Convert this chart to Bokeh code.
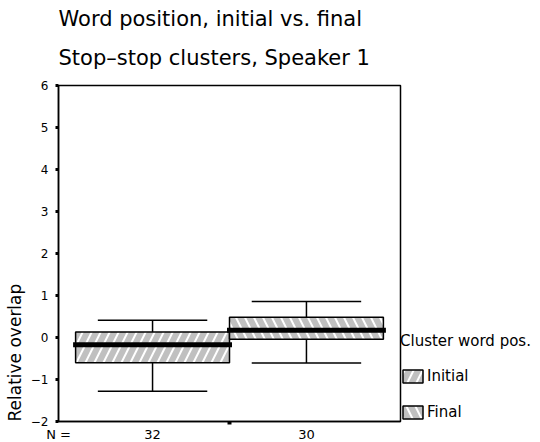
from bokeh.plotting import figure
from bokeh.models import (ColumnDataSource, FixedTicker, Legend, LegendItem, Title)
from bokeh.embed import file_html
from bokeh.resources import INLINE

# ---- data ----
positions = ["Initial", "Final"]
n_cases = [32, 30]
q1 = [-0.60, -0.04]
median = [-0.17, 0.17]
q3 = [0.13, 0.48]
whisker_low = [-1.28, -0.61]
whisker_high = [0.41, 0.86]
hatches = ["right_diagonal_line", "left_diagonal_line"]
y_ticks = [-2, -1, 0, 1, 2, 3, 4, 5, 6]

# ---- layout of the single clustered category ----
group_center = 0.5
box_width = 0.45
cap_width = 0.32
xc = [group_center + (i - (len(positions) - 1) / 2) * box_width for i in range(len(positions))]

src = ColumnDataSource(dict(
    pos=positions, n=n_cases, x=xc,
    left=[x - box_width / 2 for x in xc], right=[x + box_width / 2 for x in xc],
    q1=q1, q2=median, q3=q3, lo=whisker_low, hi=whisker_high,
    cl=[x - cap_width / 2 for x in xc], cr=[x + cap_width / 2 for x in xc],
    hatch=hatches,
))

FONT = "DejaVu Sans"

p = figure(frame_width=342, frame_height=336, x_range=(0, 1), y_range=(-2, 6),
           output_backend="svg", toolbar_location=None,
           min_border_left=50, min_border_top=85, min_border_bottom=18, min_border_right=140)
p.background_fill_color = "white"
p.border_fill_color = "white"
p.grid.visible = False
p.outline_line_color = "black"
p.outline_line_width = 1.5

# whiskers
p.segment(x0="x", y0="q3", x1="x", y1="hi", source=src, line_color="black", line_width=1.5)
p.segment(x0="x", y0="lo", x1="x", y1="q1", source=src, line_color="black", line_width=1.5)
p.segment(x0="cl", y0="hi", x1="cr", y1="hi", source=src, line_color="black", line_width=1.5)
p.segment(x0="cl", y0="lo", x1="cr", y1="lo", source=src, line_color="black", line_width=1.5)

# boxes
renderers = []
for i in range(len(positions)):
    r = p.quad(left=[src.data["left"][i]], right=[src.data["right"][i]],
               bottom=[q1[i]], top=[q3[i]],
               fill_color="#c0c0c0", line_color="black", line_width=1.5,
               hatch_pattern=hatches[i], hatch_color="white", hatch_weight=2, hatch_scale=18)
    renderers.append(r)

# medians
p.segment(x0="left", y0="q2", x1="right", y1="q2", source=src, line_color="black",
          line_width=5, line_cap="square")

# ---- axes ----
ya = p.yaxis[0]
ya.ticker = FixedTicker(ticks=y_ticks, minor_ticks=[])
ya.axis_line_color = "black"
ya.axis_line_width = 1.5
ya.major_tick_out = 3
ya.major_tick_in = 0
ya.major_tick_line_width = 3
ya.major_tick_line_color = "black"
ya.minor_tick_line_color = None
ya.major_label_text_font = FONT
ya.major_label_text_font_size = "12px"
ya.major_label_text_color = "black"
ya.major_label_standoff = 7

xa = p.xaxis[0]
xa.ticker = FixedTicker(ticks=[0] + xc, minor_ticks=[group_center])
xa.major_label_overrides = {0: "N =", **{x: str(n) for x, n in zip(xc, n_cases)}}
xa.axis_line_color = "black"
xa.axis_line_width = 1.5
xa.major_tick_line_color = None
xa.major_tick_out = 0
xa.major_tick_in = 0
xa.minor_tick_out = 3
xa.minor_tick_in = 0
xa.minor_tick_line_width = 4
xa.minor_tick_line_color = "black"
xa.major_label_text_font = FONT
xa.major_label_text_font_size = "13px"
xa.major_label_text_color = "black"
xa.major_label_standoff = 2

# y label as a left title aligned to the bottom of the frame
p.add_layout(Title(text="Relative overlap", align="left", text_font=FONT,
                   text_font_size="17px", text_font_style="normal", text_color="black",
                   standoff=5), "left")

# titles (subtitle first = closest to frame)
p.add_layout(Title(text="Stop–stop clusters, Speaker 1", align="left", text_font=FONT,
                   text_font_size="21px", text_font_style="normal", text_color="black",
                   standoff=32), "above")
try:
    main_title = Title(text="Word position, initial vs. final", align="left", text_font=FONT,
                       text_font_size="21px", text_font_style="normal", text_color="black",
                       standoff=-6)
except Exception:
    main_title = Title(text="Word position, initial vs. final", align="left", text_font=FONT,
                       text_font_size="21px", text_font_style="normal", text_color="black",
                       standoff=0)
p.add_layout(main_title, "above")

legend = Legend(items=[LegendItem(label=positions[i], renderers=[renderers[i]]) for i in range(len(positions))],
                title="Cluster word pos.", location="bottom_left",
                title_text_font=FONT, title_text_font_size="15px", title_text_font_style="normal",
                title_text_color="black", title_standoff=17,
                label_text_font=FONT, label_text_font_size="15px", label_text_color="black",
                glyph_width=25, glyph_height=16, label_standoff=2, spacing=18,
                padding=4, margin=0, border_line_color=None, background_fill_alpha=0)
p.add_layout(legend, "right")

open("out.html", "w").write(file_html(p, INLINE))
